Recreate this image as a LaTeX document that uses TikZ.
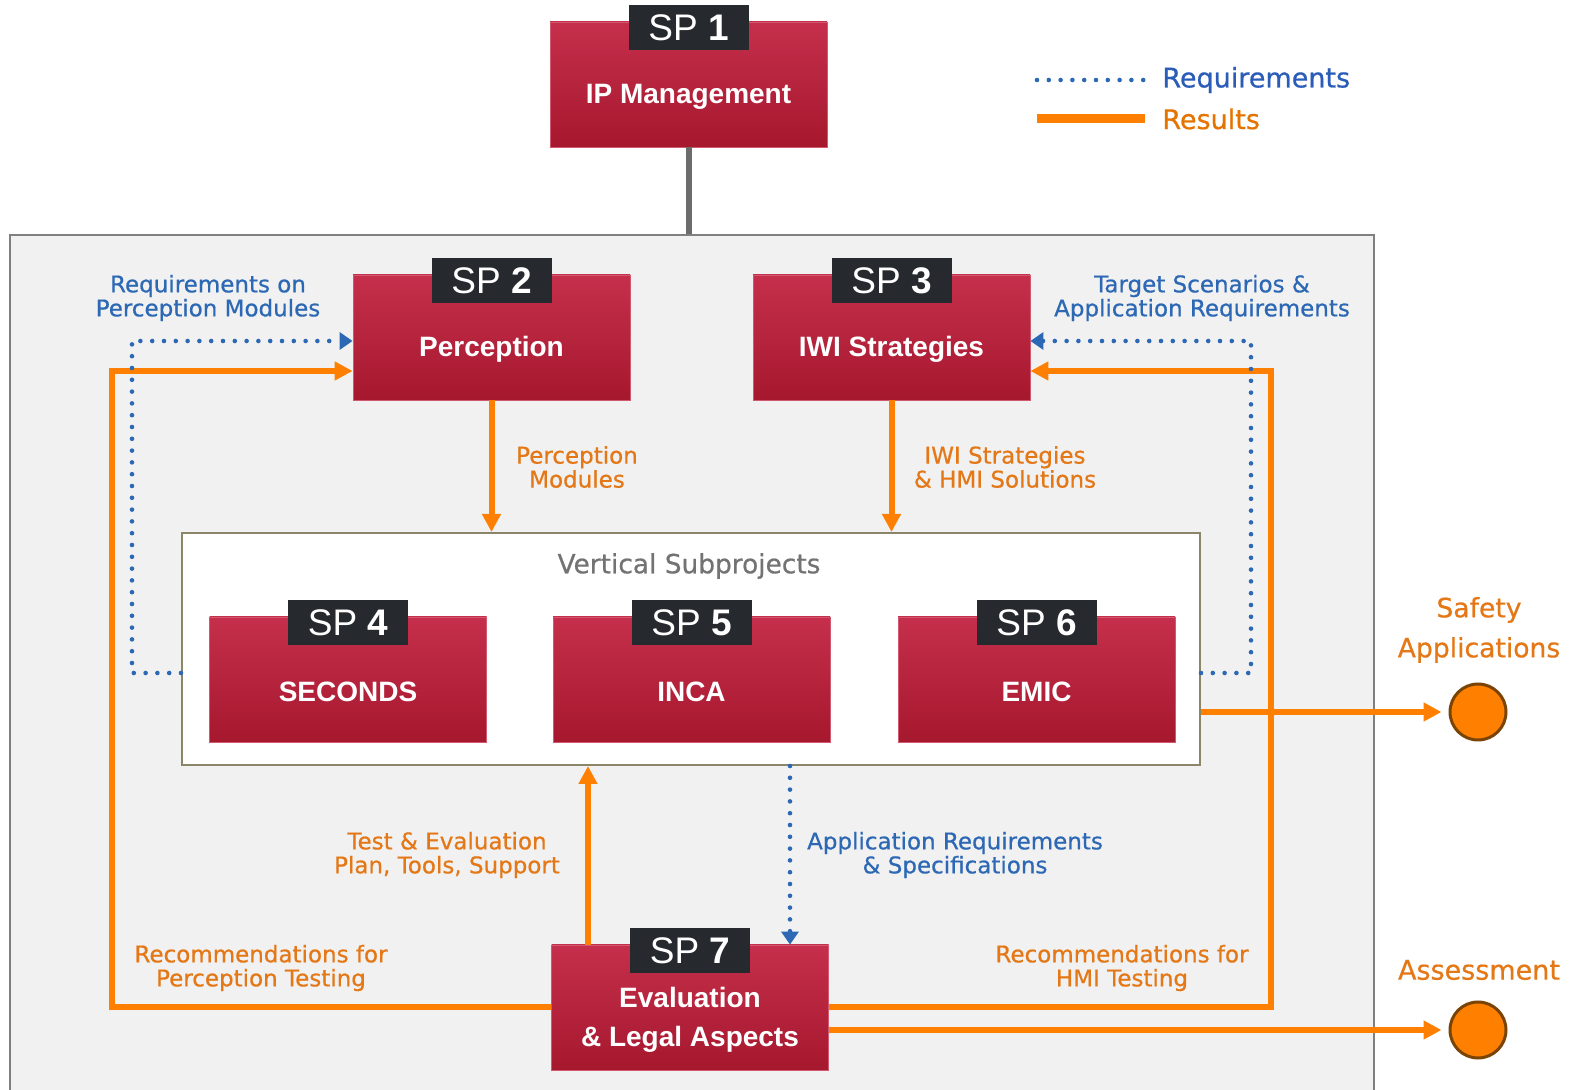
\documentclass[tikz,border=0pt]{standalone}
\usepackage{fontspec}
\setmainfont{DejaVu Sans}
\newfontfamily\boxfont{Liberation Sans}
\newfontfamily\labelfont{DejaVu Sans}[FakeBold=0.6]
\usetikzlibrary{arrows.meta,calc}

\definecolor{spTop}{HTML}{C52F4B}
\definecolor{spBot}{HTML}{A6182E}
\definecolor{spTab}{HTML}{26292E}
\definecolor{areaGray}{HTML}{F1F1F1}
\definecolor{areaEdge}{HTML}{808080}
\definecolor{vertEdge}{HTML}{8C8668}
\definecolor{reqBlue}{HTML}{2C68B4}
\definecolor{legBlue}{HTML}{2A5CB8}
\definecolor{resOrange}{HTML}{FF8000}
\definecolor{resText}{HTML}{E47716}
\definecolor{dotBrown}{HTML}{7A4406}

\tikzset{
  spbox/.style={rectangle, minimum width=138.5pt, minimum height=62.5pt, inner sep=0pt,
    top color=spTop, bottom color=spBot, draw=spTop!80!white, line width=0.4pt},
  sptab/.style={rectangle, fill=spTab, minimum width=60pt, minimum height=22.5pt, inner sep=0pt,
    text=white, font=\boxfont\fontsize{18.5}{20}\selectfont},
  sptitle/.style={text=white, align=center, inner sep=0pt,
    font=\boxfont\bfseries\fontsize{14}{19.5}\selectfont},
  req/.style={reqBlue, line width=2.3pt, line cap=round, dash pattern=on 0pt off 5.9pt,
    -{Triangle[length=6.5pt,width=8.5pt]}},
  res/.style={resOrange, line width=3pt, -{Triangle[length=9pt,width=9pt]}},
  reqlabel/.style={text=reqBlue, align=center, inner sep=0pt, font=\labelfont\fontsize{11.5}{12}\selectfont},
  reslabel/.style={text=resText, align=center, inner sep=0pt, font=\labelfont\fontsize{11.5}{12}\selectfont},
  outcome/.style={circle, fill=resOrange, draw=dotBrown, line width=1.5pt, minimum size=28pt, inner sep=0pt},
}

\begin{document}
\begin{tikzpicture}[x=0.5pt,y=-0.5pt]

\clip (0,0) rectangle (1571,1090);

% A subproject block: red box, dark tab with the number, title under the tab
\newcommand{\subproject}[5]{% name, centre x, centre y, number, title
	\node[spbox] (#1) at (#2,#3) {};
	\node[sptab] (#1tab) at ($(#1.north)+(0,6)$) {SP \textbf{#4}};
	\node[sptitle] (#1title) at ($(#1.center)+(0,12)$) {#5};
}

% Grey area holding SP 2 to SP 7
\node[draw=areaEdge, fill=areaGray, line width=1pt, minimum width=682pt, minimum height=432.5pt, inner sep=0pt] (area) at (692,667.5) {};

\subproject{sp1}{688.5}{84.5}{1}{IP Management}
\draw[line width=3pt, gray!85!black] (sp1.south) -- (sp1.south |- area.north);

\subproject{sp2}{491.5}{337.5}{2}{Perception}
\subproject{sp3}{891.5}{337.5}{3}{IWI Strategies}

% Vertical subprojects
\node[draw=vertEdge, fill=white, line width=1pt, minimum width=509pt, minimum height=116pt, inner sep=0pt] (vert) at (691,649) {};
\node[text=black!55, font=\labelfont\fontsize{13.2}{14}\selectfont] (verttitle) at (689,566) {Vertical Subprojects};

\subproject{sp4}{348}{679.5}{4}{SECONDS}
\subproject{sp5}{691.5}{679.5}{5}{INCA}
\subproject{sp6}{1036.5}{679.5}{6}{EMIC}
\subproject{sp7}{690}{1007.5}{7}{Evaluation\\\& Legal Aspects}

% Outcomes
\node[outcome] (safety) at (1478,712) {};
\node[outcome] (assess) at (1478,1030) {};
\node[text=resText, align=center, inner sep=0pt, font=\labelfont\fontsize{13.3}{20}\selectfont] (safetytxt) at (1479,630) {Safety\\Applications};
\node[text=resText, inner sep=0pt, font=\labelfont\fontsize{13.5}{14}\selectfont] (assesstxt) at (1479,970) {Assessment};

% Results
\draw[res] (sp2.south) -- (sp2.south |- vert.north);
\draw[res] (sp3.south) -- (sp3.south |- vert.north);
\coordinate (testfoot) at ($(sp7.north)+(-102,0)$);
\draw[res] (testfoot) -- (testfoot |- vert.south);
\draw[res] (sp7.west) -- ++(-439,0) |- ($(sp2.west)+(0,33.5)$);
\draw[res] (sp7.east) -- ++(442,0) |- ($(sp3.east)+(0,33.5)$);
\coordinate (safetyfoot) at (vert.east |- safety);
\coordinate (assessfoot) at (sp7.east |- assess);
\draw[res, shorten >=3.5pt] (safetyfoot) -- (safety);
\draw[res, shorten >=3.5pt] (assessfoot) -- (assess);

% Requirements
\draw[req] ($(vert.west)+(0,24)$) -- ++(-49,0) |- ($(sp2.west)+(0,3.5)$);
\draw[req] ($(vert.east)+(0,24)$) -- ++(50,0) |- ($(sp3.east)+(0,3.5)$);
\coordinate (appfoot) at ($(sp7.north)+(100,0)$);
\draw[req] (appfoot |- vert.south) -- (appfoot);

% Labels on the flows
\node[reqlabel] (reqperc) at (208,298) {Requirements on\\Perception Modules};
\node[reqlabel] (reqtarget) at (1202,298) {Target Scenarios \&\\Application Requirements};
\node[reslabel] (percmod) at (577,467) {Perception\\Modules};
\node[reslabel] (iwihmi) at (1005,467) {IWI Strategies\\\& HMI Solutions};
\node[reslabel] (testplan) at (447,855) {Test \& Evaluation\\Plan, Tools, Support};
\node[reqlabel] (appspec) at (955,855) {Application Requirements\\\& Specifications};
\node[reslabel] (recperc) at (261,968) {Recommendations for\\Perception Testing};
\node[reslabel] (rechmi) at (1122,968) {Recommendations for\\HMI Testing};

% Legend
\coordinate (legreqa) at (1037,80);
\coordinate (legreqb) at (1145,80);
\coordinate (legresa) at (1037,119);
\coordinate (legresb) at (1145,119);
\draw[req, -] (legreqa) -- (legreqb);
\draw[resOrange, line width=4.5pt] (legresa) -- (legresb);
\node[anchor=west, text=legBlue, inner sep=0pt, font=\labelfont\fontsize{13.5}{14}\selectfont] (legreq) at (1162,80) {Requirements};
\node[anchor=west, text=resOrange!90!black, inner sep=0pt, font=\labelfont\fontsize{13.5}{14}\selectfont] (legres) at (1162,119) {Results};

\end{tikzpicture}
\end{document}
